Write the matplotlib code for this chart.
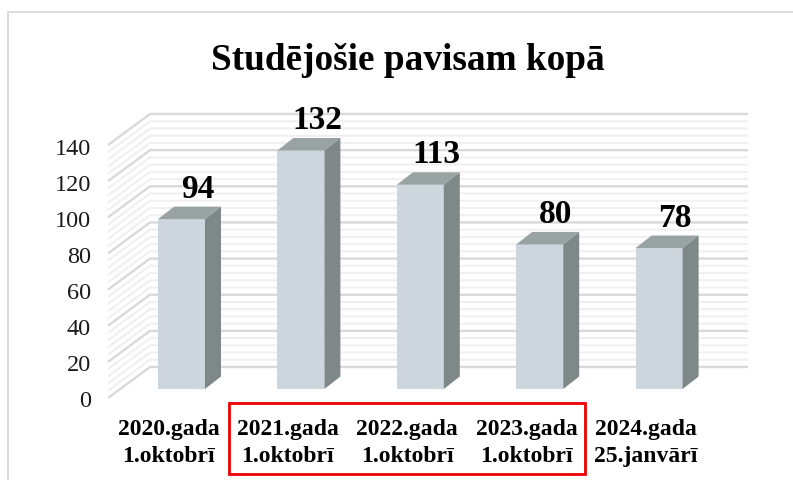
import matplotlib
matplotlib.use('Agg')
import matplotlib.pyplot as plt
from matplotlib.patches import Polygon, Rectangle

categories = ['2020.gada\n1.oktobrī', '2021.gada\n1.oktobrī', '2022.gada\n1.oktobrī',
              '2023.gada\n1.oktobrī', '2024.gada\n25.janvārī']
values = [94, 132, 113, 80, 78]
y_ticks = [0, 20, 40, 60, 80, 100, 120, 140]
minor_step = 4

W, H = 793, 481
PX_Y = 1.807                # pixels per student
PX_X = 119.4                # pixels per category

plt.rcParams['font.family'] = ['Liberation Serif', 'DejaVu Serif']

fig = plt.figure(figsize=(W / 100, H / 100), dpi=100)
ax = fig.add_axes([0, 0, 1, 1])
ax.set_xlim(-181.5 / PX_X, (W - 181.5) / PX_X)
ax.set_ylim((390 - H) / PX_Y, 390 / PX_Y)
ax.axis('off')


def dx(px):
    return px / PX_X


def dy(px):
    return px / PX_Y


def px_x(px):
    return (px - 181.5) / PX_X


# outer frame of the chart
ax.plot([px_x(7.5), px_x(7.5), px_x(793)], [dy(390 - 481), dy(390 - 13), dy(390 - 13)],
        color='#dcdcdc', lw=1.5)

# back wall and side wall grid
wall_left, wall_right, floor_left = px_x(150), px_x(748), px_x(108)
wall_base = dy(22)
front_base = dy(-9)
for v in range(0, y_ticks[-1] + 1, minor_step):
    major = v in y_ticks
    col = '#d9d9d9' if major else '#f0f0f0'
    lw = 1.7 if major else 1.5
    ax.plot([floor_left, wall_left, wall_right],
            [front_base + v, wall_base + v, wall_base + v],
            color=col, lw=lw, zorder=1 if not major else 1.5, solid_capstyle='butt')
for v in y_ticks:
    ax.text(px_x(91), front_base + v - dy(3), str(v), ha='right', va='center', fontsize=17.5,
            color='#1a1a1a')

# bars with front, top and side faces
half = dx(23.5)
bar_dx, bar_dy = dx(16), dy(12.5)
for i, v in enumerate(values):
    ax.add_patch(Rectangle((i - half, 0), 2 * half, v, fc='#ced6dd', ec='none', zorder=3))
    ax.add_patch(Polygon([(i - half, v), (i + half, v), (i + half + bar_dx, v + bar_dy),
                          (i - half + bar_dx, v + bar_dy)], fc='#9aa3a3', ec='none', zorder=3))
    ax.add_patch(Polygon([(i + half, 0), (i + half + bar_dx, bar_dy),
                          (i + half + bar_dx, v + bar_dy), (i + half, v)],
                         fc='#7f8889', ec='none', zorder=3))
    ax.text(i + dx(16), v + dy(31), str(v), ha='center', va='center', fontsize=24,
            fontweight='bold', color='black', zorder=4)
    ax.text(i - dx(13), dy(390 - 443), categories[i], ha='center', va='center', fontsize=17,
            fontweight='bold', color='black', linespacing=1.34, zorder=4)

# red box around the three October labels
ax.add_patch(Rectangle((px_x(229), dy(390 - 475)), dx(356), dy(71), fc='none', ec='#ee0000',
                       lw=2, zorder=5))

ax.text(px_x(407.5), dy(390 - 60), 'Studējošie pavisam kopā', ha='center', va='center',
        fontsize=26.8, fontweight='bold', color='black')

fig.savefig('out.png', dpi=100)
plt.close(fig)
